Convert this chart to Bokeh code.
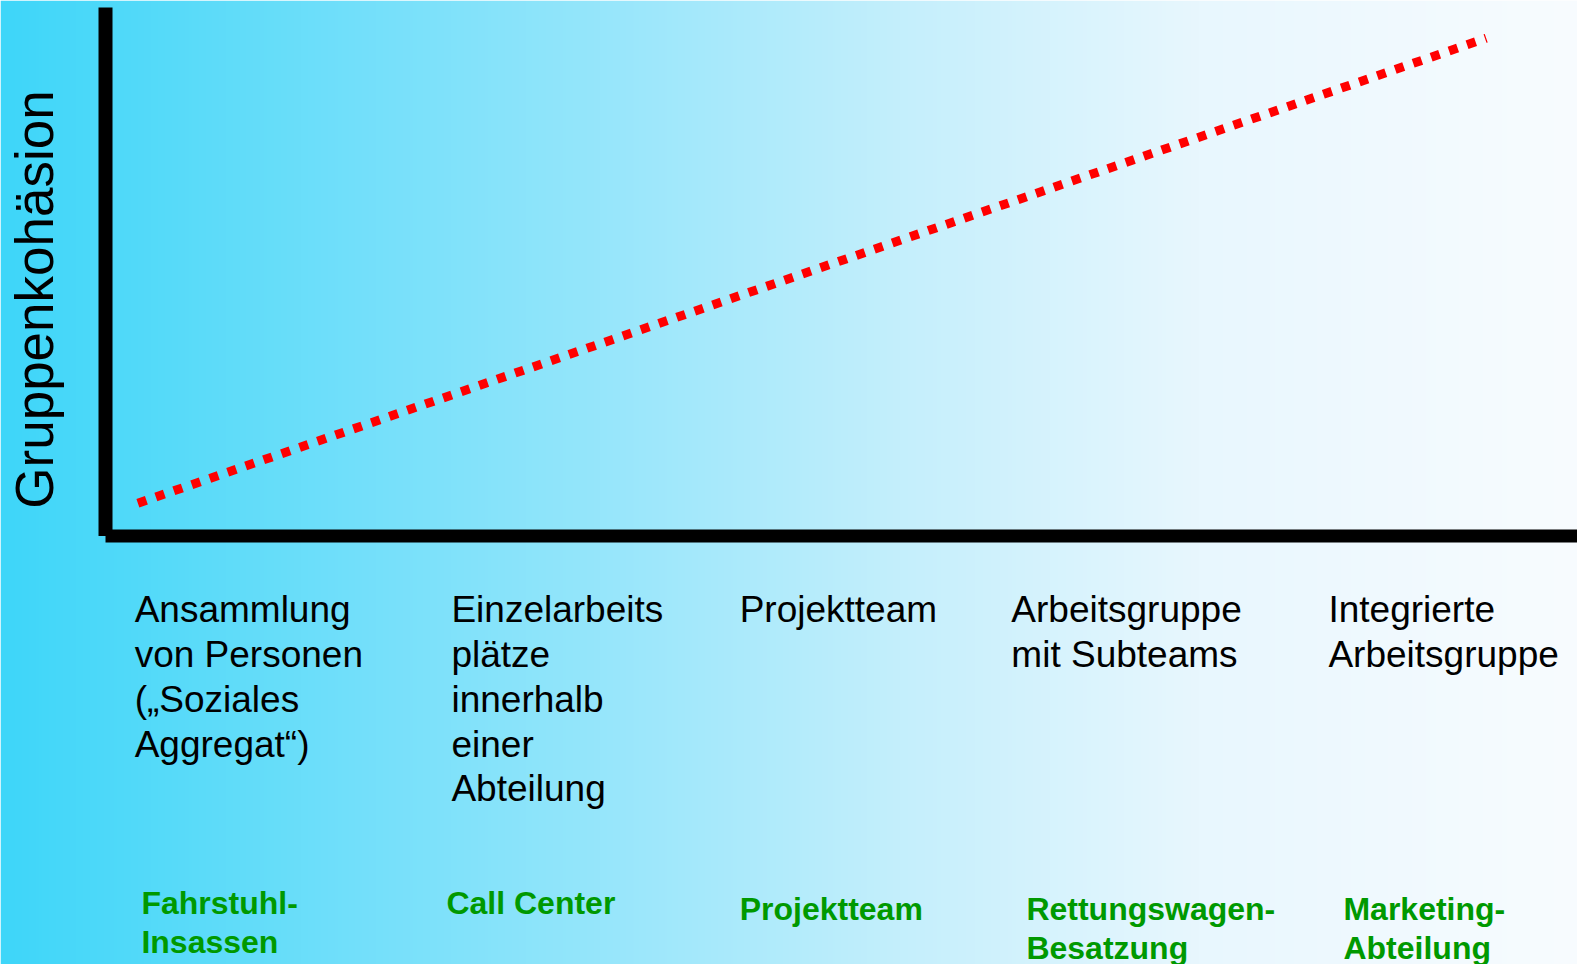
import numpy as np
from bokeh.plotting import figure
from bokeh.models import Range1d
from bokeh.core.properties import value
from bokeh.embed import file_html
from bokeh.resources import INLINE

# ---------------- data ----------------
categories = [
    "Ansammlung\nvon Personen\n(\u201eSoziales\nAggregat\u201c)",
    "Einzelarbeits\npl\u00e4tze\ninnerhalb\neiner\nAbteilung",
    "Projektteam",
    "Arbeitsgruppe\nmit Subteams",
    "Integrierte\nArbeitsgruppe",
]
examples = [
    "Fahrstuhl-\nInsassen",
    "Call Center",
    "Projektteam",
    "Rettungswagen-\nBesatzung",
    "Marketing-\nAbteilung",
]
# trend of group cohesion (x: along the category axis 0..5, y: cohesion 0..10)
trend_x = [0.11, 4.69]
trend_y = [0.62, 9.42]
y_title = "Gruppenkoh\u00e4sion"

# ---------------- layout ----------------
W, H = 1577, 964
X0, X1 = -0.3567, 5.0
Y0, Y1 = -8.108, 10.132
cat_label_x = [0.099, 1.175, 2.154, 3.077, 4.154]
cat_label_y = -1.012
ex_label_x = [0.122, 1.158, 2.154, 3.128, 4.205]
ex_label_y = [-6.607, -6.607, -6.721, -6.721, -6.721]

FONT = value("Liberation Sans")

p = figure(width=W, height=H, x_range=Range1d(X0, X1), y_range=Range1d(Y0, Y1),
           output_backend="svg", toolbar_location=None, min_border=0)
p.axis.visible = False
p.grid.visible = False
p.outline_line_color = None
p.background_fill_color = None
p.border_fill_color = None

# gradient background (decoration)
stops_pos = np.array([0.0, 0.19, 0.38, 0.57, 0.76, 1.0])
stops_col = np.array([
    [62, 214, 249],
    [106, 222, 250],
    [150, 230, 251],
    [196, 239, 252],
    [232, 247, 254],
    [248, 252, 255],
], dtype=float)
t = np.linspace(0, 1, W)
cols = np.stack([np.interp(t, stops_pos, stops_col[:, k]) for k in range(3)], axis=1).astype(np.uint32)
rgba = (255 << 24) | (cols[:, 2] << 16) | (cols[:, 1] << 8) | cols[:, 0]
img = rgba.reshape(1, W).astype(np.uint32)
p.image_rgba(image=[img], x=X0, y=Y0, dw=X1 - X0, dh=Y1 - Y0)

# axes as thick black lines
p.segment(x0=[0], y0=[0], x1=[0], y1=[10], line_color="black", line_width=14, line_cap="butt")
p.segment(x0=[0], y0=[0], x1=[5.2], y1=[0], line_color="black", line_width=13, line_cap="butt")

# dotted red trend line
p.line(trend_x, trend_y, line_color="#FF0000", line_width=9, line_dash="9 10", line_cap="butt")

# category labels
p.text(x=cat_label_x, y=[cat_label_y] * len(categories), text=categories,
       text_font=FONT, text_font_size="37px", text_color="black",
       text_align="left", text_baseline="top", text_line_height=1.09)

# example labels
p.text(x=ex_label_x, y=ex_label_y, text=examples,
       text_font=FONT, text_font_size="32px", text_font_style="bold", text_color="#009900",
       text_align="left", text_baseline="top", text_line_height=1.07)

# y title
p.text(x=[-0.2411], y=[4.475], text=[y_title], angle=np.pi / 2,
       text_font=FONT, text_font_size="53px", text_color="black",
       text_align="center", text_baseline="alphabetic")

open("out.html", "w").write(file_html(p, INLINE))
